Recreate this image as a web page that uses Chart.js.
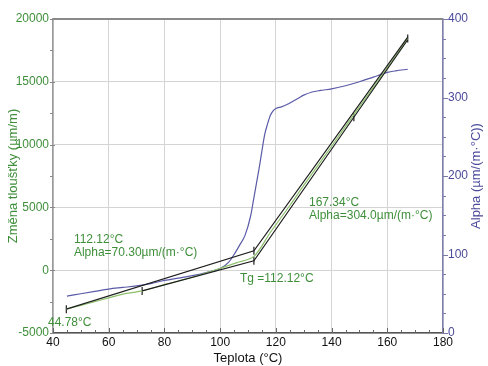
<!DOCTYPE html>
<html>
<head>
<meta charset="utf-8">
<script src="https://cdn.jsdelivr.net/npm/chart.js@4"></script>
<style>
  body { margin: 0; background: #fff; }
  #wrap { width: 488px; height: 366px; }
</style>
</head>
<body>
<div id="wrap"><canvas id="tmaChart"></canvas></div>
<script>
// measured dL curve (green)
var dlTemp = [44.78, 50, 55, 60, 65, 72, 80, 90, 100, 106, 112.12, 118, 125, 130, 140, 148, 155, 160, 167.34];
var dlValue = [-3100, -2800, -2500, -2200, -1900, -1650, -1150, -560, 150, 600, 1100, 3000, 5150, 6750, 9870, 12380, 14560, 16120, 18450];

// tangent lines (black)
var fitATemp = [44.78, 112.12, 167.34];
var fitAValue = [-3100, 1550, 18550];
var fitBTemp = [72, 112.12, 148, 167.34];
var fitBValue = [-1650, 750, 12180, 18350];

// end markers of the fits
var markTemp = [44.78, 72, 112.12, 112.12, 148, 167.34];
var markValue = [-3100, -1650, 1550, 750, 12180, 18450];

// alpha curve (right axis)
var alphaTemp = [45, 50, 55, 60, 65, 70, 75, 80, 85, 90, 95, 100, 103, 105, 107, 109, 111, 112, 113, 114, 115, 116, 117, 118, 119, 120, 122, 124, 126, 128, 130, 133, 136, 140, 145, 150, 155, 160, 163, 167.34];
var alphaValue = [47, 50, 53, 56, 58, 60, 63, 67, 70, 73, 77, 82, 90, 100, 112, 125, 150, 170, 190, 210, 232, 253, 266, 277, 283, 286, 288, 291, 295, 299, 303, 307, 309, 311, 315, 320, 326, 332, 334, 336];

var xTicks = [40, 60, 80, 100, 120, 140, 160, 180];
var yTicks = [-5000, 0, 5000, 10000, 15000, 20000];
var y2Ticks = [0, 100, 200, 300, 400];

var notes = [
    { x: 47.5, y: 2400, text: '112.12°C' },
    { x: 47.5, y: 1400, text: 'Alpha=70.30µm/(m·°C)' },
    { x: 38.2, y: -4150, text: '44.78°C' },
    { x: 107.1, y: -650, text: 'Tg =112.12°C' },
    { x: 131.9, y: 5350, text: '167.34°C' },
    { x: 131.9, y: 4350, text: 'Alpha=304.0µm/(m·°C)' }
];

var green = '#3f8f3a';
var purple = '#4b4b9b';
var fontName = '"Liberation Sans", Arial, sans-serif';

function pts(xs, ys) {
    return xs.map((x, i) => ({ x: x, y: ys[i] }));
}

var extras = {
    id: 'extras',
    afterDraw: function (chart) {
        var ctx = chart.ctx;
        var a = chart.chartArea;
        var xs = chart.scales.x, ys = chart.scales.y, y2 = chart.scales.y2;
        ctx.save();
        // top border
        ctx.strokeStyle = '#8a8a8a';
        ctx.lineWidth = 2;
        ctx.beginPath();
        ctx.moveTo(a.left, a.top);
        ctx.lineTo(a.right, a.top);
        ctx.stroke();

        // small ticks
        ctx.lineWidth = 1;
        ctx.strokeStyle = '#666';
        for (let v = 40; v <= 180; v += 5) {
            let px = Math.round(xs.getPixelForValue(v)) + 0.5;
            let len = v % 20 === 0 ? 5 : 3;
            ctx.beginPath();
            ctx.moveTo(px, a.bottom);
            ctx.lineTo(px, a.bottom - len);
            ctx.stroke();
        }
        ctx.strokeStyle = '#888';
        for (let v = -5000; v <= 20000; v += 2500) {
            let py = Math.round(ys.getPixelForValue(v)) + 0.5;
            let len = v % 5000 === 0 ? 5 : 3;
            ctx.beginPath();
            ctx.moveTo(a.left - 3, py);
            ctx.lineTo(a.left + len - 3, py);
            ctx.stroke();
        }
        ctx.strokeStyle = '#7a7aa8';
        for (let v = 0; v <= 400; v += 25) {
            let py = Math.round(y2.getPixelForValue(v)) + 0.5;
            let len = v % 100 === 0 ? 5 : 3;
            ctx.beginPath();
            ctx.moveTo(a.right, py);
            ctx.lineTo(a.right + len, py);
            ctx.stroke();
        }

        // annotations
        ctx.fillStyle = green;
        ctx.font = '12px ' + fontName;
        ctx.textAlign = 'left';
        ctx.textBaseline = 'middle';
        notes.forEach(n => {
            ctx.fillText(n.text, xs.getPixelForValue(n.x), ys.getPixelForValue(n.y));
        });

        // right axis title, reading bottom to top
        ctx.fillStyle = purple;
        ctx.font = '13px ' + fontName;
        ctx.textAlign = 'center';
        ctx.translate(476, (a.top + a.bottom) / 2);
        ctx.rotate(-Math.PI / 2);
        ctx.fillText('Alpha (µm/(m·°C))', 0, 0);
        ctx.restore();
    }
};

var ctx = document.getElementById('tmaChart').getContext('2d');
var tmaChart = new Chart(ctx, {
    type: 'line',
    data: {
        datasets: [
            {
                label: 'Fit A',
                data: pts(fitATemp, fitAValue),
                borderColor: '#1e1e1e',
                borderWidth: 1.2,
                pointRadius: 0,
                yAxisID: 'y'
            },
            {
                label: 'Fit B',
                data: pts(fitBTemp, fitBValue),
                borderColor: '#1e1e1e',
                borderWidth: 1.2,
                pointRadius: 0,
                yAxisID: 'y'
            },
            {
                label: 'Změna tloušťky',
                data: pts(dlTemp, dlValue),
                borderColor: '#8cc06a',
                borderWidth: 1.2,
                pointRadius: 0,
                tension: 0.3,
                yAxisID: 'y'
            },
            {
                label: 'marks',
                data: pts(markTemp, markValue),
                showLine: false,
                pointStyle: 'line',
                rotation: 90,
                pointRadius: 4,
                borderColor: '#1e1e1e',
                borderWidth: 1.2,
                yAxisID: 'y'
            },
            {
                label: 'Alpha',
                data: pts(alphaTemp, alphaValue),
                borderColor: '#5a5aa8',
                borderWidth: 1.2,
                pointRadius: 0,
                tension: 0.4,
                cubicInterpolationMode: 'monotone',
                yAxisID: 'y2'
            }
        ]
    },
    options: {
        responsive: true,
        maintainAspectRatio: false,
        animation: false,
        layout: { padding: { top: 19, left: 0, right: 0, bottom: 0 } },
        plugins: {
            legend: { display: false },
            tooltip: { enabled: false }
        },
        scales: {
            x: {
                type: 'linear',
                min: 40,
                max: 180,
                afterFit: s => { s.height = 33; },
                afterBuildTicks: s => { s.ticks = xTicks.map(v => ({ value: v })); },
                ticks: { color: '#111', padding: 2, font: { size: 12, family: fontName }, callback: v => String(v) },
                grid: { color: '#d4d4d4', drawTicks: false },
                border: { color: '#555', width: 1.5 },
                title: {
                    display: true,
                    text: 'Teplota (°C)',
                    color: '#111',
                    padding: 0,
                    font: { size: 13, family: fontName }
                }
            },
            y: {
                position: 'left',
                min: -5000,
                max: 20000,
                afterFit: s => { s.width = 53; },
                afterBuildTicks: s => { s.ticks = yTicks.map(v => ({ value: v })); },
                ticks: { color: green, padding: 4, font: { size: 12, family: fontName }, callback: v => String(v) },
                grid: { color: '#d4d4d4', drawTicks: false },
                border: { color: '#9a9a9a', width: 1.5 },
                title: {
                    display: true,
                    text: 'Změna tloušťky (µm/m)',
                    color: green,
                    padding: { top: 6, bottom: 0 },
                    font: { size: 13, family: fontName }
                }
            },
            y2: {
                position: 'right',
                min: 0,
                max: 400,
                afterFit: s => { s.width = 45; },
                afterBuildTicks: s => { s.ticks = y2Ticks.map(v => ({ value: v })); },
                ticks: { color: purple, padding: 5, font: { size: 12, family: fontName }, callback: v => String(v) },
                grid: { drawOnChartArea: false, drawTicks: false },
                border: { color: '#8080b0', width: 1.5 }
            }
        }
    },
    plugins: [extras]
});
</script>
</body>
</html>
